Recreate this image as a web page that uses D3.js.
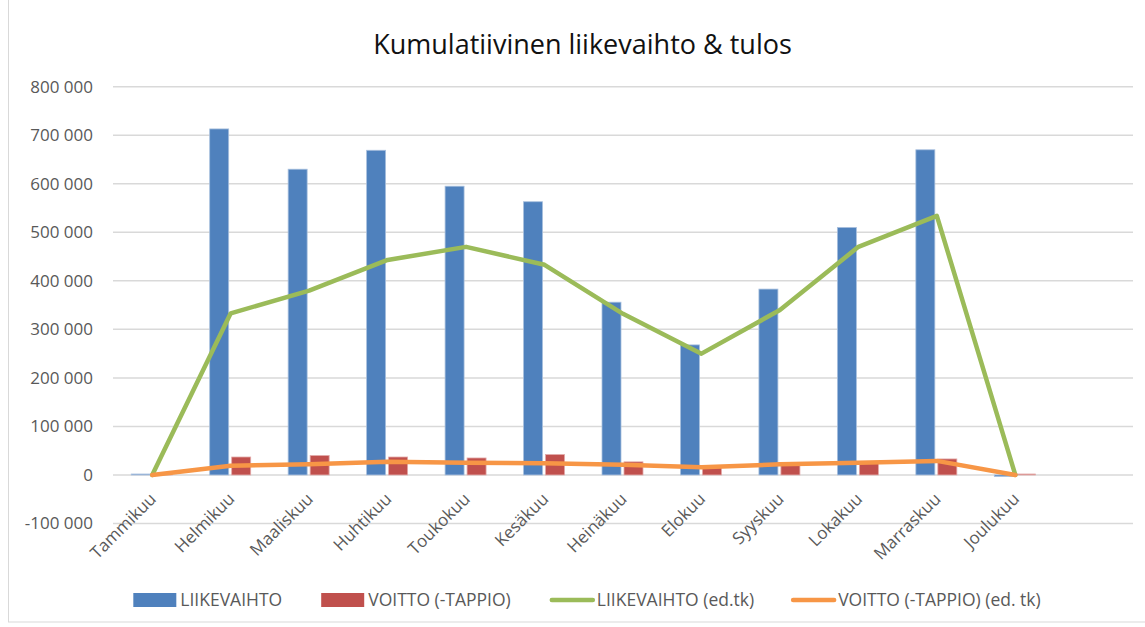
<!DOCTYPE html>
<html>
<head>
<meta charset="utf-8">
<script src="https://cdn.jsdelivr.net/npm/d3@7"></script>
<style>
  body { margin: 0; background: #fff; }
  text { font-family: "Open Sans", sans-serif; }
</style>
</head>
<body>
<script>
// chart values
var months = ["Tammikuu", "Helmikuu", "Maaliskuu", "Huhtikuu", "Toukokuu", "Kesäkuu",
              "Heinäkuu", "Elokuu", "Syyskuu", "Lokakuu", "Marraskuu", "Joulukuu"];
var liikevaihto = [2000, 713000, 630000, 669000, 595000, 563000, 356000, 268000, 383000, 510000, 670000, -3000];
var voitto = [1000, 37000, 40000, 37000, 35000, 42000, 27000, 17000, 22000, 25000, 33000, 2000];
var liikevaihtoEdTk = [0, 333000, 380000, 443000, 470000, 433000, 332000, 250000, 340000, 470000, 534000, 0];
var voittoEdTk = [0, 19000, 22000, 27000, 25000, 24000, 21000, 16000, 22000, 25000, 29000, 0];
var yTicks = [-100000, 0, 100000, 200000, 300000, 400000, 500000, 600000, 700000, 800000];
var seriesNames = ["LIIKEVAIHTO", "VOITTO (-TAPPIO)", "LIIKEVAIHTO (ed.tk)", "VOITTO (-TAPPIO) (ed. tk)"];
var titleText = "Kumulatiivinen liikevaihto & tulos";

var w = 1145;
var h = 627;
// note: "top" is taken by window.top, so use plot* names
var plotLeft = 113, plotRight = 1133, plotTop = 86.7, plotBottom = 523.5;

var blue = "#4F81BD", red = "#C0504D", green = "#9BBB59", orange = "#F79646";
var grid = "#d9d9d9";

// Excel leaves one empty slot after the last month
var x = d3.scaleBand()
    .domain(months.concat(["_empty"]))
    .range([plotLeft, plotRight]);

var y = d3.scaleLinear()
    .domain([yTicks[0], yTicks[yTicks.length - 1]])
    .range([plotBottom, plotTop]);

var fi = d3.formatLocale({ decimal: ",", thousands: " ", grouping: [3], currency: ["", "€"], minus: "-" });
var fmt = fi.format(",d");

var svg = d3.select("body").append("svg").attr("width", w).attr("height", h);

// chart frame
svg.append("rect")
  .attr("x", 8.5).attr("y", -2)
  .attr("width", w).attr("height", 624)
  .attr("fill", "none").attr("stroke", grid).attr("stroke-width", 1);

svg.append("text")
  .attr("x", 582.5).attr("y", 54)
  .attr("text-anchor", "middle")
  .attr("font-size", 27)
  .attr("fill", "#111")
  .text(titleText);

// gridlines
svg.append("g")
  .selectAll("line")
  .data(yTicks)
  .enter().append("line")
  .attr("x1", plotLeft).attr("x2", plotRight)
  .attr("y1", function(d) { return y(d); })
  .attr("y2", function(d) { return y(d); })
  .attr("stroke", grid)
  .attr("stroke-width", 1.5);

// y axis labels
var yAxis = svg.append("g")
  .attr("transform", "translate(" + plotLeft + ",0)")
  .call(d3.axisLeft(y).tickValues(yTicks).tickSize(0).tickPadding(20).tickFormat(fmt));
yAxis.select(".domain").remove();
yAxis.selectAll("text")
  .attr("font-family", "Open Sans, sans-serif")
  .attr("font-size", 17)
  .attr("fill", "#595959");

function cx(i) { return x(months[i]) + x.bandwidth() / 2; }

// bars
svg.append("g").selectAll("rect")
  .data(liikevaihto)
  .enter().append("rect")
  .attr("x", function(d, i) { return cx(i) - 21; })
  .attr("width", 19)
  .attr("y", function(d) { return y(Math.max(0, d)); })
  .attr("height", function(d) { return Math.abs(y(d) - y(0)); })
  .attr("fill", blue)
  .attr("stroke", "#a9c0de").attr("stroke-width", 0.8);

svg.append("g").selectAll("rect")
  .data(voitto)
  .enter().append("rect")
  .attr("x", function(d, i) { return cx(i) + 1; })
  .attr("width", 19)
  .attr("y", function(d) { return y(Math.max(0, d)); })
  .attr("height", function(d) { return Math.abs(y(d) - y(0)); })
  .attr("fill", red)
  .attr("stroke", "#e2a9a8").attr("stroke-width", 0.8);

// lines
var line = d3.line()
  .x(function(d, i) { return cx(i); })
  .y(function(d) { return y(d); });

svg.append("path")
  .datum(liikevaihtoEdTk)
  .attr("d", line)
  .attr("fill", "none")
  .attr("stroke", green)
  .attr("stroke-width", 4.5)
  .attr("stroke-linejoin", "round")
  .attr("stroke-linecap", "round");

svg.append("path")
  .datum(voittoEdTk)
  .attr("d", line)
  .attr("fill", "none")
  .attr("stroke", orange)
  .attr("stroke-width", 4.5)
  .attr("stroke-linejoin", "round")
  .attr("stroke-linecap", "round");

// category labels, rotated
svg.append("g").selectAll("text")
  .data(months)
  .enter().append("text")
  .attr("transform", function(d, i) { return "translate(" + (cx(i) + 5) + ",500) rotate(-45)"; })
  .attr("text-anchor", "end")
  .attr("font-size", 17)
  .attr("fill", "#595959")
  .text(function(d) { return d; });

// legend
var legend = svg.append("g").attr("transform", "translate(0,600)");
var items = legend.selectAll("g")
  .data(seriesNames)
  .enter().append("g");

items.append("text")
  .attr("x", 47)
  .attr("y", 6)
  .attr("font-size", 17.5)
  .attr("fill", "#595959")
  .text(function(d) { return d; });

items.each(function(d, i) {
  var g = d3.select(this);
  if (i < 2) {
    g.append("rect")
      .attr("x", 0).attr("y", -7)
      .attr("width", 43).attr("height", 14)
      .attr("fill", i == 0 ? blue : red);
  } else {
    g.append("line")
      .attr("x1", 2).attr("x2", 43)
      .attr("y1", 0).attr("y2", 0)
      .attr("stroke", i == 2 ? green : orange)
      .attr("stroke-width", 4.5)
      .attr("stroke-linecap", "round");
  }
});

// spread items out and centre them
var gap = 39;
var widths = [];
items.each(function() { widths.push(this.getBBox().width); });
var total = d3.sum(widths) + gap * (widths.length - 1);
var pos = 586 - total / 2;
items.attr("transform", function(d, i) {
  var p = pos;
  pos += widths[i] + gap;
  return "translate(" + p + ",0)";
});
</script>
</body>
</html>
